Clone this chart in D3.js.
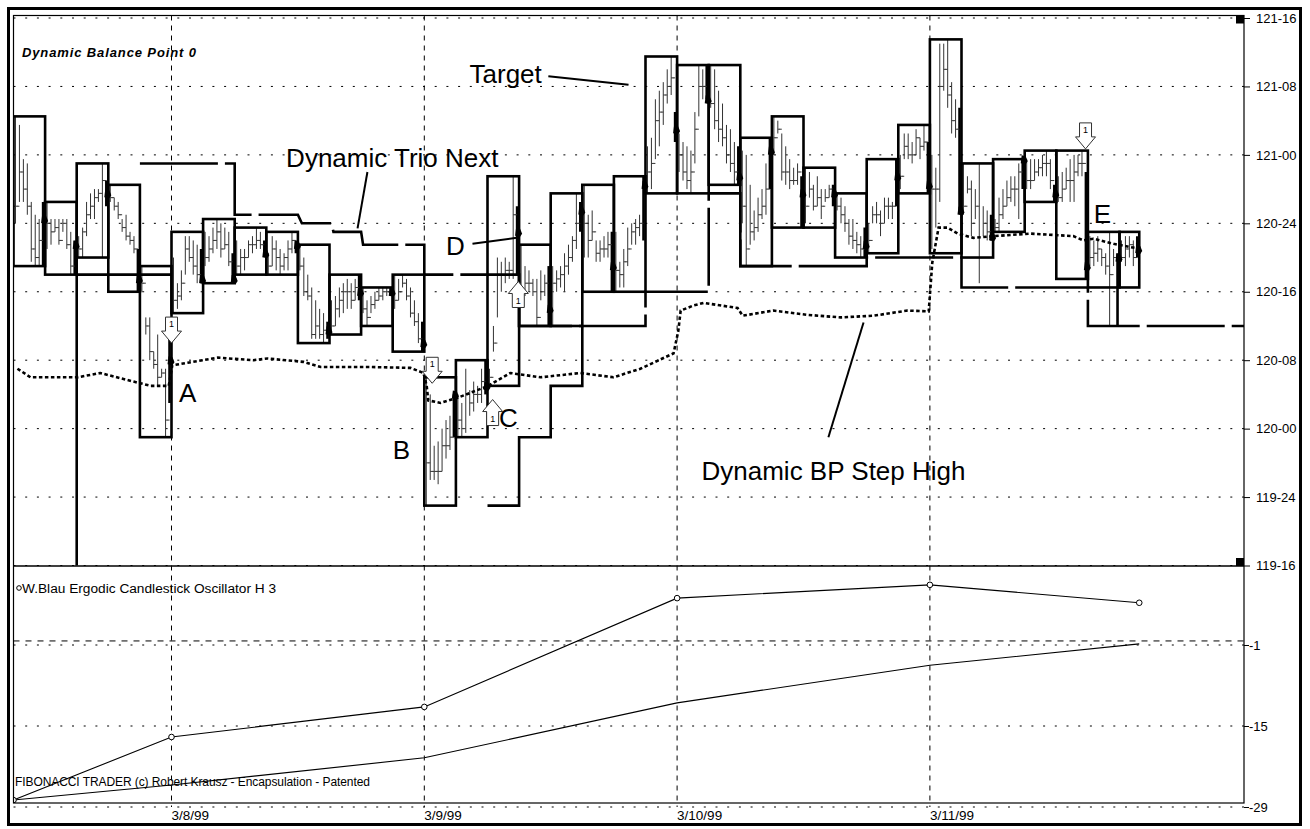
<!DOCTYPE html>
<html>
<head>
<meta charset="utf-8">
<script src="https://cdn.jsdelivr.net/npm/d3@7"></script>
<style>
body{margin:0;background:#fff;}
svg{display:block;font-family:"Liberation Sans",Arial,sans-serif;}
</style>
</head>
<body>
<svg id="chart" width="1310" height="829"></svg>
<script>
// prices are kept in 32nds of a point (3872 = 121-00), x in bars (8 bars per box)
var priceTicks = [3824,3832,3840,3848,3856,3864,3872,3880,3888];
var dayStartBars = [40,104,168,232];
var dayLabels = ["3/8/99","3/9/99","3/10/99","3/11/99"];

var boxHigh = [3876.5,3866.5,3871,3868.5,3859,3863,3864.5,3863.5,3863,3861.5,3858,3856.5,3858,3846,3848,3869.5,3861.5,3867.5,3868.5,3869.5,3883.5,3882.5,3882.5,3874,3876.5,3870.5,3867.5,3871.5,3875.5,3885.5,3871,3871.5,3872.5,3872.5,3863,3863];
var boxLow = [3859,3858,3860,3856,3839,3853.5,3857,3858,3858,3850,3851,3852,3849,3831,3839,3845,3852,3852,3856,3856,3867.5,3867.5,3868.5,3859,3863.5,3863.5,3860,3860.5,3867.5,3860.5,3860,3863,3866.5,3857.5,3856.5,3856.5];
var boxClose = [3864.5,3861.5,3867.5,3857.5,3848,3857.5,3857.5,3860.5,3861.5,3851.5,3856,3856,3850,3844,3845,3863,3854,3865.5,3859,3868.5,3875,3878.5,3869.5,3872.5,3867.5,3867.5,3861.5,3869.5,3868.5,3865.5,3862.5,3871.5,3867.5,3859,3860,3861];

// small bars inside each box: [high, low, close]
var boxBars = [
 [[3876.5,3864,3866],[3875.5,3866.5,3870],[3871.5,3866.5,3868],[3871,3865,3866],[3866.5,3859.5,3861],[3865,3859,3860],[3864.5,3859,3862],[3866.5,3859,3864.5]],
 [[3866.5,3861,3864],[3864.5,3861.5,3863],[3864.5,3863,3863.5],[3864.5,3861.5,3862],[3864.5,3863,3864],[3864.5,3861,3861.5],[3863,3858,3859],[3862,3858,3861.5]],
 [[3862.5,3860,3861],[3863.5,3860,3863],[3866.5,3862.5,3865],[3867.5,3864.5,3866],[3868,3864.5,3867],[3868,3866.5,3867.5],[3871,3860,3869],[3869,3866,3867.5]],
 [[3868.5,3866.5,3867],[3867,3865.5,3866],[3866.5,3864.5,3865],[3864.5,3863,3863.5],[3865,3862,3862.5],[3863,3861.5,3862],[3862.5,3860.5,3861],[3861,3856,3857.5]],
 [[3859,3856,3857],[3853,3851,3852],[3853,3848,3849],[3849,3847,3847.5],[3851,3845,3846],[3847,3846,3846.5],[3847,3839,3841],[3852,3843,3848]],
 [[3860,3853.5,3855],[3857,3854,3855.5],[3858.5,3855,3857],[3862.5,3858,3861],[3862.5,3859.5,3860],[3862,3858,3859],[3861.5,3857,3858],[3861,3857,3857.5]],
 [[3863,3859,3860],[3862.5,3859.5,3861],[3863.5,3860.5,3862],[3864.5,3861,3863],[3864,3860,3861],[3863.5,3861,3861.5],[3863,3859,3859.5],[3860.5,3857,3857.5]],
 [[3862,3858,3859],[3861,3858,3860],[3861,3858.5,3860],[3862,3860,3861.5],[3862.5,3860.5,3861.5],[3863.5,3861,3862],[3863,3861,3861.5],[3862,3860.5,3860.5]],
 [[3860.5,3858,3859],[3862.5,3859,3861],[3862,3858.5,3860],[3861,3858,3859],[3860.5,3858.5,3860],[3862,3858.5,3861],[3863,3860.5,3862],[3862,3860.5,3861.5]],
 [[3861.5,3858.5,3859],[3860,3855.5,3856],[3858,3855,3855.5],[3856.5,3850.5,3851],[3855,3850.5,3852],[3854,3850.5,3851],[3853.5,3850,3851.5],[3852.5,3850.5,3851.5]],
 [[3855,3851,3852],[3855.5,3852,3854],[3856.5,3853,3855],[3857,3853.5,3856],[3857.5,3854,3856],[3857,3854,3855],[3857.5,3855,3856.5],[3858,3855,3856]],
 [[3856.5,3853.5,3854],[3855,3852,3853],[3855.5,3853.5,3854.5],[3856,3854,3855],[3856.5,3855,3855.5],[3856.5,3855,3856],[3856.5,3855.5,3856],[3856.5,3855.5,3856]],
 [[3858,3854,3855],[3857.5,3855,3856],[3858,3856.5,3857],[3857.5,3855,3855.5],[3856.5,3853,3853.5],[3855,3852,3852.5],[3853.5,3850,3850.5],[3852.5,3849,3850]],
 [[3846,3831,3836],[3844,3834,3835],[3838,3834,3835],[3838.5,3833.5,3835],[3840,3835,3838],[3841,3836.5,3838],[3841.5,3837.5,3839],[3844,3839,3844]],
 [[3844,3839,3841],[3843,3839,3840],[3847,3839.5,3844],[3844.5,3841.5,3843],[3845.5,3842,3844],[3845,3843,3844],[3847,3843,3845.5],[3848,3844,3845]],
 [[3847,3845,3846],[3852,3849,3850],[3860,3853,3858],[3859.5,3856,3858],[3860,3857,3858.5],[3859.5,3857.5,3858.5],[3869.5,3857.5,3865],[3866,3858,3863]],
 [[3861.5,3854.5,3856],[3859,3855.5,3857],[3858.5,3856,3857],[3857.5,3855.5,3856],[3857.5,3852,3853],[3858.5,3855,3856],[3858,3855.5,3857],[3859,3852,3854]],
 [[3859,3852,3857],[3858.5,3856,3857.5],[3859,3856.5,3858],[3860.5,3856,3859],[3861.5,3858,3860],[3862.5,3859.5,3862],[3867.5,3861,3864],[3866.5,3863,3865.5]],
 [[3868.5,3860,3864],[3865,3860,3862],[3865.5,3862,3863],[3862,3859.5,3860.5],[3862,3859.5,3861],[3862.5,3860,3861],[3863,3860,3861.5],[3863,3856,3859]],
 [[3863,3856,3858.5],[3859.5,3856.5,3858],[3861,3856.5,3859.5],[3863.5,3859,3861],[3864,3861.5,3863],[3864.5,3861.5,3863.5],[3865,3862.5,3864],[3869.5,3862,3868.5]],
 [[3873,3867.5,3870],[3874,3868,3871],[3878.5,3871.5,3876],[3879.5,3873,3877],[3880.5,3875.5,3879],[3882,3878,3880],[3883.5,3879,3881],[3877,3873.5,3875]],
 [[3874.5,3870,3872],[3873.5,3869,3870],[3873,3868,3869],[3872.5,3867.5,3870],[3877,3871,3875],[3882.5,3876.5,3880],[3882,3878.5,3880],[3882.5,3878.5,3878.5]],
 [[3882.5,3877.5,3878],[3882,3875,3876],[3879.5,3873.5,3875],[3878,3873,3874],[3875.5,3871,3872],[3875,3870,3871],[3873.5,3868.5,3870],[3873,3868.5,3869.5]],
 [[3872.5,3864,3866],[3872,3859,3861],[3868.5,3861.5,3863],[3865.5,3862,3863.5],[3867,3863,3865],[3868,3864.5,3866],[3871,3865,3868],[3874,3868,3872.5]],
 [[3876.5,3872,3874],[3876,3874.5,3875],[3874.5,3869,3870],[3873,3868.5,3870],[3871.5,3868,3869],[3870.5,3868.5,3869],[3871,3868.5,3870],[3869.5,3863.5,3867.5]],
 [[3870.5,3864,3866],[3870,3867,3868],[3868.5,3865.5,3866],[3869.5,3866,3867],[3868,3864.5,3866],[3868,3866.5,3867],[3868.5,3867,3868],[3868.5,3866,3867.5]],
 [[3867.5,3865.5,3866],[3867,3864,3865],[3866,3863,3864],[3864.5,3861.5,3862.5],[3864.5,3861,3862],[3863,3860.5,3861.5],[3862.5,3860,3861],[3863.5,3860,3861.5]],
 [[3864,3860.5,3862],[3866,3864,3865],[3866.5,3864,3865],[3865.5,3862.5,3864],[3867,3864,3866],[3867,3864.5,3866],[3866.5,3864.5,3866],[3871.5,3866,3869.5]],
 [[3872,3868,3869.5],[3874.5,3871.5,3873],[3874.5,3871.5,3872],[3873.5,3871,3872],[3875,3872,3874],[3874,3871.5,3873],[3875.5,3872.5,3873.5],[3873.5,3867.5,3868.5]],
 [[3872,3861,3868],[3870.5,3863.5,3868],[3885,3866.5,3880],[3885,3879.5,3882],[3885.5,3877.5,3879],[3880.5,3874.5,3876],[3878.5,3874,3875],[3877.5,3865.5,3865.5]],
 [[3871,3865,3866],[3869.5,3867.5,3868],[3869,3862.5,3864],[3868,3864.5,3866],[3871,3857,3860],[3866,3862.5,3864],[3865.5,3862,3863],[3865,3862,3862.5]],
 [[3864.5,3863,3863.5],[3867,3863,3865],[3868,3864.5,3866],[3869,3866,3867],[3869.5,3866.5,3868],[3869.5,3866,3868],[3871,3864.5,3870],[3871.5,3868,3871.5]],
 [[3871.5,3868,3869],[3871.5,3868,3869],[3871.5,3869,3870],[3871.5,3869.5,3870.5],[3872,3869.5,3871],[3872.5,3869.5,3871],[3871.5,3868,3869],[3868.5,3866.5,3867.5]],
 [[3869.5,3866.5,3867],[3870,3866.5,3868],[3870.5,3868,3869],[3871.5,3866.5,3869],[3872,3866.5,3870],[3872,3869.5,3871],[3872.5,3869.5,3871],[3870,3857.5,3859]],
 [[3862.5,3859,3860],[3862,3859,3860.5],[3862.5,3859.5,3861],[3861,3859,3860],[3860.5,3858,3859],[3863,3852,3858],[3861,3859,3860],[3860.5,3852,3860]],
 [[3862,3859.5,3860],[3862.5,3859,3861],[3862.5,3860,3861.5],[3862,3859,3860],[3862.5,3860,3861]]
];

// step lines [bar, price]
var trioNext = [[32,3871],[56,3871],[56,3865],[72,3865],[73,3864],[80.5,3864],[81,3863],[88,3863],[88.5,3861.5],[104,3861.5],[104,3858],[128,3858],[128,3852],[160,3852],[160,3856],[176,3856],[176,3867.5],[184,3867.5],[184,3859],[216,3859],[216,3860],[240,3860],[240,3856.5],[272,3856.5],[272,3852],[312,3852]];
var targetSteps = [
 [[16,3824],[16,3858],[40,3858]],
 [[120,3831],[128,3831],[128,3839],[136,3839],[136,3845],[144,3845],[144,3852]]
];
var bpStepHigh = [[1,3847],[4.3,3846],[10.6,3846],[16.2,3846],[22,3846.5],[30.4,3845.5],[34.7,3845],[39.3,3845],[40.2,3847.4],[44.1,3847.7],[51.7,3848.3],[60.7,3848],[64.3,3848.2],[73.4,3847.8],[77.8,3847.2],[90.4,3847.2],[100.5,3847.1],[103.8,3846.5],[104.6,3845],[105,3843.3],[108.1,3843],[112.4,3843.6],[120.2,3845],[125.8,3846.5],[133.4,3846],[143.5,3846.5],[151.9,3846],[158.7,3847],[167.1,3848.8],[168.3,3851.4],[168.9,3853.8],[172.2,3854.4],[174.7,3854.7],[183.3,3854.1],[184.6,3853.2],[192.4,3853.8],[201,3853.3],[209.4,3853],[217.8,3853.2],[226.3,3853.8],[231.7,3853.7],[232.6,3859.4],[234.2,3863.5],[236.5,3863.5],[239,3862.8],[243,3862.3],[248,3862.5],[257.4,3862.8],[268.3,3862.5],[270.9,3862],[273.4,3862.2],[278.5,3861.6],[285.3,3861]];

var arrowBars = [40,106,121.3,127.8,271.4];
var arrowTips = [3850,3845.3,3843.4,3857.2,3872.7];
var arrowDirs = ["down","down","up","up","down"];

// oscillator panel
var oscBars = [0,40,104,168,232,285];
var oscErgodic = [-27.8,-16.9,-11.7,7.1,9.4,6.3];
var oscSignal = [-27.8,-25.2,-20.5,-11.0,-4.5,-0.8];
var oscTicks = [-1,-15,-29];
var oscZeroLine = -0.3;

var notes = [
 {text:"Target", at:[124.6,3881.5], line:[[135.4,3881.2],[155.7,3880.2]]},
 {text:"Dynamic Trio Next", at:[95.9,3871.6], line:[[89.6,3870],[87.1,3863.4]]},
 {text:"Dynamic BP Step High", at:[207.6,3835.1], line:[[206.3,3839],[215.2,3852.4]]},
 {text:"A", at:[44.1,3844.2]},
 {text:"B", at:[98.2,3837.5]},
 {text:"C", at:[125.3,3841.2]},
 {text:"D", at:[111.9,3861.4], line:[[116.2,3861.6],[127.4,3862.3]]},
 {text:"E", at:[275.7,3865.1]}
];

var svg = d3.select("#chart");
var L = 13.5, R = 1244, T = 15.5, SEP = 566, B = 803;

var x = d3.scaleLinear().domain([0,312]).range([L, L + 39*31.6]);
var y = d3.scaleLinear().domain([3824,3888]).range([565.5,18]);
var yOsc = d3.scaleLinear().domain([-29,-1]).range([807,645]);

function fmt32(v){
	var whole = Math.floor(v/32), frac = v - whole*32;
	return whole + "-" + (frac < 10 ? "0" : "") + frac;
}

svg.append("rect").attr("width",1310).attr("height",829).attr("fill","#fff");

var defs = svg.append("defs");
defs.append("clipPath").attr("id","clipTop").append("rect")
	.attr("x",L).attr("y",T).attr("width",R-L).attr("height",SEP-T);
defs.append("clipPath").attr("id","clipOsc").append("rect")
	.attr("x",L).attr("y",SEP).attr("width",R-L).attr("height",B-SEP);

//grid
var grid = svg.append("g");
grid.selectAll("line.hg").data(priceTicks).enter().append("line")
	.attr("x1",L).attr("x2",R).attr("y1",function(d){return y(d);}).attr("y2",function(d){return y(d);})
	.attr("stroke","#000").attr("stroke-width",1).attr("stroke-dasharray","2,9.7");
grid.selectAll("line.og").data(oscTicks).enter().append("line")
	.attr("x1",L).attr("x2",R).attr("y1",function(d){return yOsc(d);}).attr("y2",function(d){return yOsc(d);})
	.attr("stroke","#000").attr("stroke-width",1).attr("stroke-dasharray","2,9.7");
grid.append("line")
	.attr("x1",L).attr("x2",R).attr("y1",yOsc(oscZeroLine)).attr("y2",yOsc(oscZeroLine))
	.attr("stroke","#000").attr("stroke-width",1).attr("stroke-dasharray","6,6");
grid.selectAll("line.vg").data(dayStartBars).enter().append("line")
	.attr("x1",function(d){return x(d);}).attr("x2",function(d){return x(d);})
	.attr("y1",T).attr("y2",807)
	.attr("stroke","#000").attr("stroke-width",1).attr("stroke-dasharray","5,5");

var pricePanel = svg.append("g").attr("clip-path","url(#clipTop)");

//small bars
boxBars.forEach(function(bars,i){
	bars.forEach(function(b,j){
		var bx = x(8*i + j + 0.5);
		var last = (j == bars.length-1);
		var prevClose = j > 0 ? bars[j-1][2] : (i > 0 ? boxClose[i-1] : b[2]);
		pricePanel.append("line").attr("x1",bx).attr("x2",bx).attr("y1",y(b[0])).attr("y2",y(b[1]))
			.attr("stroke",last ? "#000" : "#333").attr("stroke-width",last ? 2.6 : 1);
		pricePanel.append("line").attr("x1",bx-2.2).attr("x2",bx).attr("y1",y(prevClose)).attr("y2",y(prevClose))
			.attr("stroke","#333").attr("stroke-width",1);
		pricePanel.append("line").attr("x1",bx).attr("x2",bx+2.2).attr("y1",y(b[2])).attr("y2",y(b[2]))
			.attr("stroke","#333").attr("stroke-width",1);
	});
});

//boxes
pricePanel.selectAll("rect.box").data(boxHigh).enter().append("rect")
	.attr("x",function(d,i){return x(8*i);})
	.attr("width",function(d,i){return x(8*i + boxBars[i].length) - x(8*i);})
	.attr("y",function(d){return y(d);})
	.attr("height",function(d,i){return y(boxLow[i]) - y(d);})
	.attr("fill","none").attr("stroke","#000").attr("stroke-width",2.6);

var line = d3.line().x(function(d){return x(d[0]);}).y(function(d){return y(d[1]);});

pricePanel.append("path").attr("d",line(trioNext)).attr("fill","none")
	.attr("stroke","#000").attr("stroke-width",2.6).attr("stroke-dasharray","78,7");
targetSteps.forEach(function(s){
	pricePanel.append("path").attr("d",line(s)).attr("fill","none")
		.attr("stroke","#000").attr("stroke-width",2.6);
});
pricePanel.append("path").attr("d",line(bpStepHigh)).attr("fill","none")
	.attr("stroke","#000").attr("stroke-width",2.6).attr("stroke-dasharray","3.5,2.5");

//close markers
boxClose.forEach(function(c,i){
	var ex = x(8*i + boxBars[i].length);
	pricePanel.append("path")
		.attr("d","M"+(ex-4)+","+(y(c)+4)+" L"+(ex-3)+","+(y(c)-4)+" L"+(ex+1)+","+(y(c)-3)+" L"+(ex+3)+","+(y(c)+2)+" L"+(ex+1)+","+(y(c)+5)+" Z")
		.attr("fill","#000");
});

//signal arrows
arrowBars.forEach(function(b,i){
	var cx = x(b), ty = y(arrowTips[i]);
	var s = arrowDirs[i] == "down" ? -1 : 1;
	var p = "M"+(cx-6)+","+(ty+s*26)+" L"+(cx+6)+","+(ty+s*26)+" L"+(cx+6)+","+(ty+s*12)
		+" L"+(cx+10)+","+(ty+s*12)+" L"+cx+","+ty+" L"+(cx-10)+","+(ty+s*12)+" L"+(cx-6)+","+(ty+s*12)+" Z";
	pricePanel.append("path").attr("d",p).attr("fill","#fff").attr("stroke","#333").attr("stroke-width",1);
	pricePanel.append("text").attr("x",cx).attr("y",ty+s*19).attr("dy","0.35em").attr("text-anchor","middle")
		.attr("font-size",9).text("1");
});

//annotations
notes.forEach(function(n){
	if (n.line)
		pricePanel.append("path").attr("d",line(n.line)).attr("stroke","#000").attr("stroke-width",2).attr("fill","none");
	pricePanel.append("text").attr("x",x(n.at[0])).attr("y",y(n.at[1])).attr("dy","0.35em")
		.attr("text-anchor","middle").attr("font-size",26).attr("fill","#000").text(n.text);
});

svg.append("text").attr("x",22).attr("y",57).attr("font-size",13).attr("font-weight","bold")
	.attr("font-style","italic").attr("textLength",174).attr("lengthAdjust","spacing")
	.text("Dynamic Balance Point 0");

//oscillator
var osc = svg.append("g").attr("clip-path","url(#clipOsc)");
var oline = d3.line().x(function(d,i){return x(oscBars[i]);}).y(function(d){return yOsc(d);});
osc.append("path").attr("d",oline(oscSignal)).attr("fill","none").attr("stroke","#000").attr("stroke-width",1.1);
osc.append("path").attr("d",oline(oscErgodic)).attr("fill","none").attr("stroke","#000").attr("stroke-width",1.1);
osc.selectAll("circle").data(oscErgodic).enter().append("circle")
	.attr("cx",function(d,i){return x(oscBars[i]);}).attr("cy",function(d){return yOsc(d);})
	.attr("r",2.8).attr("fill","#fff").attr("stroke","#000").attr("stroke-width",1);

svg.append("circle").attr("cx",19).attr("cy",588).attr("r",2.3).attr("fill","none").attr("stroke","#000").attr("stroke-width",1);
svg.append("text").attr("x",22).attr("y",593).attr("font-size",13.7)
	.text("W.Blau Ergodic Candlestick Oscillator H 3");
svg.append("text").attr("x",15).attr("y",786).attr("font-size",12)
	.attr("textLength",355).attr("lengthAdjust","spacing")
	.text("FIBONACCI TRADER (c) Robert Krausz - Encapsulation - Patented");

//axes
var ay = svg.append("g").attr("transform","translate("+R+",0)")
	.call(d3.axisRight(y).tickValues(priceTicks).tickSize(6).tickPadding(6).tickFormat(fmt32));
var ao = svg.append("g").attr("transform","translate("+R+",0)")
	.call(d3.axisRight(yOsc).tickValues(oscTicks).tickSize(5).tickPadding(0).tickFormat(function(d){return String(d);}));
[ay,ao].forEach(function(a){
	a.select(".domain").remove();
	a.selectAll("text").attr("font-size",13).attr("font-family","Liberation Sans, Arial, sans-serif").attr("fill","#000");
	a.selectAll("line").attr("stroke","#000");
});

svg.selectAll("text.day").data(dayStartBars).enter().append("text")
	.attr("x",function(d){return x(d);}).attr("y",820).attr("font-size",13.5)
	.text(function(d,i){return dayLabels[i];});

//frames
svg.append("rect").attr("x",L).attr("y",T).attr("width",R-L).attr("height",B-T)
	.attr("fill","none").attr("stroke","#000").attr("stroke-width",1.2);
svg.append("line").attr("x1",L).attr("x2",R).attr("y1",SEP).attr("y2",SEP).attr("stroke","#000").attr("stroke-width",1.6);
svg.append("rect").attr("x",R-8).attr("y",T).attr("width",8).attr("height",8).attr("fill","#000");
svg.append("rect").attr("x",R-8).attr("y",SEP-8).attr("width",8).attr("height",8).attr("fill","#000");
svg.append("rect").attr("x",8.5).attr("y",8.5).attr("width",1292).attr("height",816)
	.attr("fill","none").attr("stroke","#000").attr("stroke-width",3);
</script>
</body>
</html>
